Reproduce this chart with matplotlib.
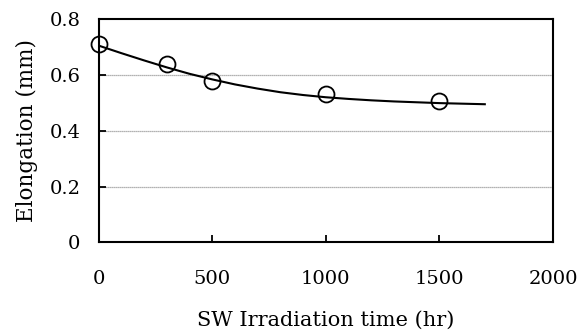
import matplotlib
matplotlib.use("Agg")
import matplotlib.pyplot as plt

# measured points
hours = [0, 300, 500, 1000, 1500]
elong = [0.710, 0.639, 0.579, 0.531, 0.506]

# trend curve
curve_x = [0, 100, 200, 300, 400, 500, 600, 700, 800, 900, 1000,
           1100, 1200, 1300, 1400, 1500, 1600, 1700]
curve_y = [0.705, 0.678, 0.652, 0.627, 0.604, 0.584, 0.566, 0.551, 0.538,
           0.528, 0.520, 0.514, 0.509, 0.505, 0.502, 0.499, 0.497, 0.495]

plt.rcParams['font.family'] = ['DejaVu Serif']

fig = plt.figure(figsize=(5.83, 3.34), dpi=100)
ax = fig.add_axes([0.169, 0.274, 0.7795, 0.669])

for g in [0.2, 0.4, 0.6]:
    ax.axhline(g, color='#999999', lw=0.9, ls=(0, (1, 0.6)), zorder=0)

ax.plot(curve_x, curve_y, color='black', lw=1.5, zorder=2)
ax.plot(hours, elong, 'o', ms=11.5, mfc='none', mec='black', mew=1.3,
        zorder=3, clip_on=False)

ax.set_xlim(0, 2000)
ax.set_ylim(0, 0.8)
ax.set_xticks([0, 500, 1000, 1500, 2000])
ax.set_yticks([0, 0.2, 0.4, 0.6, 0.8])
ax.set_yticklabels(['0', '0.2', '0.4', '0.6', '0.8'])
ax.tick_params(axis='x', direction='in', length=5, width=1.3, pad=20, labelsize=14)
ax.tick_params(axis='y', direction='in', length=5, width=1.3, pad=13, labelsize=14)
for s in ax.spines.values():
    s.set_linewidth(1.5)

ax.set_xlabel('SW Irradiation time (hr)', fontsize=15, labelpad=16)
ax.set_ylabel('Elongation (mm)', fontsize=15.5, labelpad=8)

fig.savefig('out.png', dpi=100)
